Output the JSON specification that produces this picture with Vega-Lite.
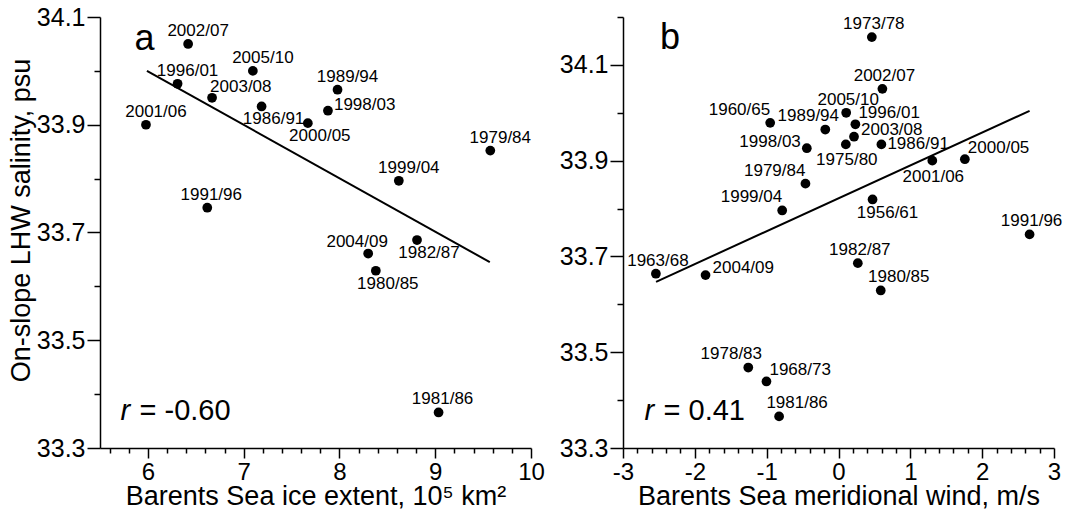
{
  "$schema": "https://vega.github.io/schema/vega-lite/v6.json",
  "background": "white",
  "padding": {"left": 7, "top": 5, "right": 5, "bottom": 0},
  "spacing": 14,
  "datasets": {
    "a": [
      {"label": "2002/07", "ice": 6.42, "sal": 34.05},
      {"label": "2005/10", "ice": 7.096, "sal": 34.0},
      {"label": "1996/01", "ice": 6.31, "sal": 33.976},
      {"label": "2003/08", "ice": 6.67, "sal": 33.95},
      {"label": "1986/91", "ice": 7.187, "sal": 33.934},
      {"label": "2001/06", "ice": 5.98, "sal": 33.9},
      {"label": "2000/05", "ice": 7.67, "sal": 33.903},
      {"label": "1989/94", "ice": 7.98, "sal": 33.965},
      {"label": "1998/03", "ice": 7.88, "sal": 33.926},
      {"label": "1979/84", "ice": 9.575, "sal": 33.852},
      {"label": "1999/04", "ice": 8.62, "sal": 33.796},
      {"label": "1991/96", "ice": 6.62, "sal": 33.746},
      {"label": "1982/87", "ice": 8.81, "sal": 33.686},
      {"label": "2004/09", "ice": 8.3, "sal": 33.661},
      {"label": "1980/85", "ice": 8.38, "sal": 33.629},
      {"label": "1981/86", "ice": 9.035, "sal": 33.366}
    ],
    "a_fit": [{"ice": 5.99, "sal": 34.0}, {"ice": 9.57, "sal": 33.645}],
    "a_letter": [{"ice": 5.86, "sal": 34.039}],
    "a_r": [{"ice": 5.714, "sal": 33.352}],
    "b": [
      {"label": "1973/78", "wind": 0.464, "sal": 34.158},
      {"label": "2002/07", "wind": 0.611, "sal": 34.05},
      {"label": "2005/10", "wind": 0.107, "sal": 34.0},
      {"label": "1960/65", "wind": -0.951, "sal": 33.979},
      {"label": "1996/01", "wind": 0.235, "sal": 33.976},
      {"label": "1989/94", "wind": -0.184, "sal": 33.965},
      {"label": "2003/08", "wind": 0.216, "sal": 33.95},
      {"label": "1998/03", "wind": -0.441, "sal": 33.926},
      {"label": "1975/80", "wind": 0.102, "sal": 33.934},
      {"label": "1986/91", "wind": 0.597, "sal": 33.934},
      {"label": "2001/06", "wind": 1.306, "sal": 33.9},
      {"label": "2000/05", "wind": 1.759, "sal": 33.903},
      {"label": "1979/84", "wind": -0.46, "sal": 33.852},
      {"label": "1956/61", "wind": 0.474, "sal": 33.819},
      {"label": "1999/04", "wind": -0.784, "sal": 33.796},
      {"label": "1991/96", "wind": 2.66, "sal": 33.746},
      {"label": "1963/68", "wind": -2.542, "sal": 33.664},
      {"label": "2004/09", "wind": -1.851, "sal": 33.661},
      {"label": "1982/87", "wind": 0.269, "sal": 33.686},
      {"label": "1980/85", "wind": 0.588, "sal": 33.629},
      {"label": "1978/83", "wind": -1.256, "sal": 33.468},
      {"label": "1968/73", "wind": -1.003, "sal": 33.439},
      {"label": "1981/86", "wind": -0.827, "sal": 33.366}
    ],
    "b_fit": [{"wind": -2.54, "sal": 33.647}, {"wind": 2.66, "sal": 34.004}],
    "b_letter": [{"wind": -2.485, "sal": 34.133}],
    "b_r": [{"wind": -2.7, "sal": 33.358}]
  },
  "hconcat": [
    {
      "width": 431,
      "height": 431,
      "encoding": {
        "x": {
          "field": "ice", "type": "quantitative",
          "scale": {"domain": [5.5, 10], "nice": false, "zero": false},
          "axis": {
            "title": "Barents Sea ice extent, 10⁵ km²",
            "values": [5.6, 5.8, 6, 6.2, 6.4, 6.6, 6.8, 7, 7.2, 7.4, 7.6, 7.8, 8, 8.2, 8.4, 8.6, 8.8, 9, 9.2, 9.4, 9.6, 9.8, 10],
            "labelExpr": "abs(datum.value - round(datum.value)) < 0.01 ? '' + round(datum.value) : ''",
            "tickSize": {"condition": {"test": "abs(datum.value - round(datum.value)) < 0.01", "value": 10}, "value": 5}
          }
        },
        "y": {
          "field": "sal", "type": "quantitative",
          "scale": {"domain": [33.3, 34.1], "nice": false, "zero": false},
          "axis": {
            "title": "On-slope LHW salinity, psu",
            "titlePadding": 1,
            "titleY": 203,
            "values": [33.3, 33.4, 33.5, 33.6, 33.7, 33.8, 33.9, 34.0, 34.1],
            "labelExpr": "round(datum.value * 10) % 2 == 1 ? format(datum.value, '.1f') : ''",
            "tickSize": {"condition": {"test": "round(datum.value * 10) % 2 == 1", "value": 13}, "value": 6}
          }
        }
      },
      "layer": [
        {"data": {"name": "a_fit"}, "mark": {"type": "line", "color": "black", "strokeWidth": 2}},
        {"data": {"name": "a"}, "mark": {"type": "circle", "size": 95, "color": "black", "opacity": 1}},
        {
          "data": {"name": "a"},
          "transform": [{"filter": {"field": "label", "oneOf": ["2002/07", "2005/10", "1996/01", "1989/94", "2001/06", "1979/84", "1999/04"]}}],
          "mark": {"type": "text", "align": "center", "baseline": "middle", "dx": 10, "dy": -13, "font": "Liberation Sans", "fontSize": 17, "color": "black"},
          "encoding": {"text": {"field": "label"}}
        },
        {
          "data": {"name": "a"},
          "transform": [{"filter": {"field": "label", "oneOf": ["1991/96", "1981/86"]}}],
          "mark": {"type": "text", "align": "center", "baseline": "middle", "dx": 4, "dy": -13, "font": "Liberation Sans", "fontSize": 17, "color": "black"},
          "encoding": {"text": {"field": "label"}}
        },
        {
          "data": {"name": "a"},
          "transform": [{"filter": {"field": "label", "oneOf": ["2004/09"]}}],
          "mark": {"type": "text", "align": "center", "baseline": "middle", "dx": -11, "dy": -12, "font": "Liberation Sans", "fontSize": 17, "color": "black"},
          "encoding": {"text": {"field": "label"}}
        },
        {
          "data": {"name": "a"},
          "transform": [{"filter": {"field": "label", "oneOf": ["2003/08"]}}],
          "mark": {"type": "text", "align": "left", "baseline": "middle", "dx": -2, "dy": -11, "font": "Liberation Sans", "fontSize": 17, "color": "black"},
          "encoding": {"text": {"field": "label"}}
        },
        {
          "data": {"name": "a"},
          "transform": [{"filter": {"field": "label", "oneOf": ["1998/03"]}}],
          "mark": {"type": "text", "align": "left", "baseline": "middle", "dx": 6, "dy": -6, "font": "Liberation Sans", "fontSize": 17, "color": "black"},
          "encoding": {"text": {"field": "label"}}
        },
        {
          "data": {"name": "a"},
          "transform": [{"filter": {"field": "label", "oneOf": ["1986/91", "2000/05", "1982/87", "1980/85"]}}],
          "mark": {"type": "text", "align": "center", "baseline": "middle", "dx": 12, "dy": 13, "font": "Liberation Sans", "fontSize": 17, "color": "black"},
          "encoding": {"text": {"field": "label"}}
        },
        {
          "data": {"name": "a_letter"},
          "mark": {"type": "text", "text": "a", "align": "left", "baseline": "alphabetic", "font": "Liberation Sans", "fontSize": 36, "color": "black"}
        },
        {
          "data": {"name": "a_r"},
          "mark": {"type": "text", "text": "r", "align": "left", "baseline": "alphabetic", "font": "Liberation Sans", "fontStyle": "italic", "fontSize": 29, "color": "black"}
        },
        {
          "data": {"name": "a_r"},
          "mark": {"type": "text", "text": "= -0.60", "align": "left", "baseline": "alphabetic", "dx": 19, "font": "Liberation Sans", "fontSize": 29, "color": "black"}
        }
      ]
    },
    {
      "width": 431,
      "height": 431,
      "encoding": {
        "x": {
          "field": "wind", "type": "quantitative",
          "scale": {"domain": [-3, 3], "nice": false, "zero": false},
          "axis": {
            "title": "Barents Sea meridional wind, m/s",
            "values": [-3, -2.8, -2.6, -2.4, -2.2, -2, -1.8, -1.6, -1.4, -1.2, -1, -0.8, -0.6, -0.4, -0.2, 0, 0.2, 0.4, 0.6, 0.8, 1, 1.2, 1.4, 1.6, 1.8, 2, 2.2, 2.4, 2.6, 2.8, 3],
            "labelExpr": "abs(datum.value - round(datum.value)) < 0.01 ? '' + round(datum.value) : ''",
            "tickSize": {"condition": {"test": "abs(datum.value - round(datum.value)) < 0.01", "value": 10}, "value": 5}
          }
        },
        "y": {
          "field": "sal", "type": "quantitative",
          "scale": {"domain": [33.3, 34.2], "nice": false, "zero": false},
          "axis": {
            "title": null,
            "values": [33.3, 33.4, 33.5, 33.6, 33.7, 33.8, 33.9, 34.0, 34.1, 34.2],
            "labelExpr": "round(datum.value * 10) % 2 == 1 ? format(datum.value, '.1f') : ''",
            "tickSize": {"condition": {"test": "round(datum.value * 10) % 2 == 1", "value": 13}, "value": 6}
          }
        }
      },
      "layer": [
        {"data": {"name": "b_fit"}, "mark": {"type": "line", "color": "black", "strokeWidth": 2}},
        {"data": {"name": "b"}, "mark": {"type": "circle", "size": 95, "color": "black", "opacity": 1}},
        {
          "data": {"name": "b"},
          "transform": [{"filter": {"field": "label", "oneOf": ["1973/78", "2002/07", "2005/10", "1991/96", "1963/68", "1982/87"]}}],
          "mark": {"type": "text", "align": "center", "baseline": "middle", "dx": 2, "dy": -13, "font": "Liberation Sans", "fontSize": 17, "color": "black"},
          "encoding": {"text": {"field": "label"}}
        },
        {
          "data": {"name": "b"},
          "transform": [{"filter": {"field": "label", "oneOf": ["1980/85", "1981/86"]}}],
          "mark": {"type": "text", "align": "center", "baseline": "middle", "dx": 18, "dy": -13, "font": "Liberation Sans", "fontSize": 17, "color": "black"},
          "encoding": {"text": {"field": "label"}}
        },
        {
          "data": {"name": "b"},
          "transform": [{"filter": {"field": "label", "oneOf": ["1960/65", "1979/84", "1999/04"]}}],
          "mark": {"type": "text", "align": "right", "baseline": "middle", "dx": 0, "dy": -13, "font": "Liberation Sans", "fontSize": 17, "color": "black"},
          "encoding": {"text": {"field": "label"}}
        },
        {
          "data": {"name": "b"},
          "transform": [{"filter": {"field": "label", "oneOf": ["1989/94", "1978/83"]}}],
          "mark": {"type": "text", "align": "center", "baseline": "middle", "dx": -17, "dy": -14, "font": "Liberation Sans", "fontSize": 17, "color": "black"},
          "encoding": {"text": {"field": "label"}}
        },
        {
          "data": {"name": "b"},
          "transform": [{"filter": {"field": "label", "oneOf": ["1996/01", "2000/05", "1968/73"]}}],
          "mark": {"type": "text", "align": "left", "baseline": "middle", "dx": 3, "dy": -11, "font": "Liberation Sans", "fontSize": 17, "color": "black"},
          "encoding": {"text": {"field": "label"}}
        },
        {
          "data": {"name": "b"},
          "transform": [{"filter": {"field": "label", "oneOf": ["2003/08", "2004/09"]}}],
          "mark": {"type": "text", "align": "left", "baseline": "middle", "dx": 7, "dy": -7, "font": "Liberation Sans", "fontSize": 17, "color": "black"},
          "encoding": {"text": {"field": "label"}}
        },
        {
          "data": {"name": "b"},
          "transform": [{"filter": {"field": "label", "oneOf": ["1986/91"]}}],
          "mark": {"type": "text", "align": "left", "baseline": "middle", "dx": 6, "dy": 0, "font": "Liberation Sans", "fontSize": 17, "color": "black"},
          "encoding": {"text": {"field": "label"}}
        },
        {
          "data": {"name": "b"},
          "transform": [{"filter": {"field": "label", "oneOf": ["1998/03"]}}],
          "mark": {"type": "text", "align": "right", "baseline": "middle", "dx": -6, "dy": -6, "font": "Liberation Sans", "fontSize": 17, "color": "black"},
          "encoding": {"text": {"field": "label"}}
        },
        {
          "data": {"name": "b"},
          "transform": [{"filter": {"field": "label", "oneOf": ["1975/80", "2001/06"]}}],
          "mark": {"type": "text", "align": "center", "baseline": "middle", "dx": 1, "dy": 16, "font": "Liberation Sans", "fontSize": 17, "color": "black"},
          "encoding": {"text": {"field": "label"}}
        },
        {
          "data": {"name": "b"},
          "transform": [{"filter": {"field": "label", "oneOf": ["1956/61"]}}],
          "mark": {"type": "text", "align": "center", "baseline": "middle", "dx": 15, "dy": 14, "font": "Liberation Sans", "fontSize": 17, "color": "black"},
          "encoding": {"text": {"field": "label"}}
        },
        {
          "data": {"name": "b_letter"},
          "mark": {"type": "text", "text": "b", "align": "left", "baseline": "alphabetic", "font": "Liberation Sans", "fontSize": 36, "color": "black"}
        },
        {
          "data": {"name": "b_r"},
          "mark": {"type": "text", "text": "r", "align": "left", "baseline": "alphabetic", "font": "Liberation Sans", "fontStyle": "italic", "fontSize": 29, "color": "black"}
        },
        {
          "data": {"name": "b_r"},
          "mark": {"type": "text", "text": "= 0.41", "align": "left", "baseline": "alphabetic", "dx": 19, "font": "Liberation Sans", "fontSize": 29, "color": "black"}
        }
      ]
    }
  ],
  "config": {
    "view": {"stroke": null},
    "font": "Liberation Sans",
    "axis": {
      "grid": false,
      "domainColor": "black",
      "domainWidth": 1.5,
      "tickColor": "black",
      "tickWidth": 1.5,
      "labelColor": "black",
      "labelFont": "Liberation Sans",
      "labelFontSize": 25,
      "labelPadding": 2,
      "labelFlush": false,
      "labelOverlap": false,
      "titleColor": "black",
      "titleFont": "Liberation Sans",
      "titleFontSize": 27,
      "titleFontWeight": "normal"
    },
    "axisX": {"titlePadding": -1, "labelPadding": 2, "labelFontSize": 24}
  }
}
